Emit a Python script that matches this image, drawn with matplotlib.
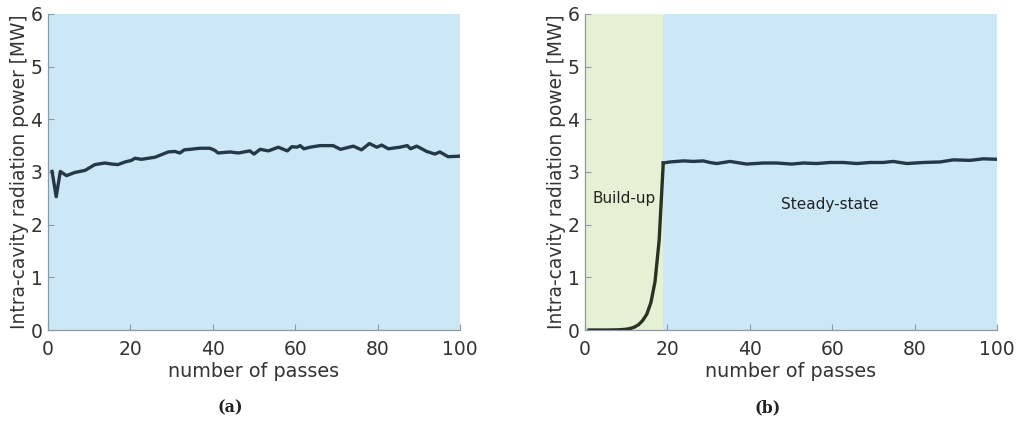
import matplotlib
matplotlib.use("Agg")
import matplotlib.pyplot as plt

# (a) intra-cavity radiation power vs. pass number
passes_a = [1, 2, 3, 4.5, 6.5, 9, 11.4, 13.8, 15.5, 17, 18.7, 20.3, 21.1, 22.7, 26,
            29.2, 30.8, 32, 33.1, 34.5, 36.9, 39.3, 40.5, 41.3, 44.2, 46.2, 49, 50,
            51.5, 53.5, 55.9, 58.1, 59.2, 60.4, 61.2, 62.1, 63.6, 66, 69.2, 71, 74.1,
            76.1, 78, 79.8, 81, 82.6, 85.4, 87.2, 88, 89.5, 91.9, 93.9, 95.1, 97.1, 100]
power_a = [3.01, 2.53, 3.01, 2.93, 2.99, 3.03, 3.14, 3.17, 3.15, 3.14, 3.19, 3.22, 3.26,
           3.24, 3.28, 3.38, 3.39, 3.36, 3.42, 3.43, 3.45, 3.45, 3.41, 3.36, 3.38, 3.36,
           3.40, 3.34, 3.43, 3.40, 3.47, 3.40, 3.48, 3.47, 3.50, 3.44, 3.47, 3.50, 3.50,
           3.43, 3.49, 3.42, 3.54, 3.47, 3.51, 3.44, 3.47, 3.50, 3.44, 3.49, 3.39, 3.34,
           3.38, 3.29, 3.30]

# (b) build-up phase followed by steady-state operation
passes_b = [1, 2, 3, 4, 5, 6, 7, 8, 9, 10, 11, 12, 13, 14, 15, 16, 17, 18, 19,
            20.6, 23.9, 26.3, 28.7, 30.3, 32, 35.2, 39.2, 43.3, 46.5, 50.2, 53, 56.2,
            59.5, 62.7, 65.9, 69.2, 72.4, 74.8, 78.1, 82.1, 86.2, 89.4, 93.4, 96.7, 100]
power_b = [0.0, 0.0, 0.0, 0.0, 0.0, 0.001, 0.002, 0.004, 0.008, 0.015, 0.03, 0.055,
           0.1, 0.18, 0.3, 0.52, 0.92, 1.7, 3.17,
           3.19, 3.21, 3.20, 3.21, 3.18, 3.16, 3.20, 3.15, 3.17, 3.17, 3.15, 3.17, 3.16,
           3.18, 3.18, 3.16, 3.18, 3.18, 3.20, 3.16, 3.18, 3.19, 3.23, 3.22, 3.25, 3.24]
buildup_end = 19

x_ticks = [0, 20, 40, 60, 80, 100]
y_ticks = [0, 1, 2, 3, 4, 5, 6]
x_label = "number of passes"
y_label = "Intra-cavity radiation power [MW]"

BLUE_BG = "#cce8f6"
GREEN_BG = "#e5f0d5"
LINE = "#253847"
LINE_B = "#2a3322"
TEXT = "#333333"
SPINE = "#8a9aa6"

fig = plt.figure(figsize=(10.2, 4.22), dpi=100)
ax_a = fig.add_axes([0.047, 0.218, 0.404, 0.749])
ax_b = fig.add_axes([0.5735, 0.218, 0.404, 0.749])


def style(ax):
    ax.set_xlim(0, 100)
    ax.set_ylim(0, 6)
    ax.set_xticks(x_ticks)
    ax.set_yticks(y_ticks)
    ax.tick_params(direction="in", length=4, width=0.8, colors=SPINE,
                   labelcolor=TEXT, labelsize=13.5)
    ax.tick_params(axis="x", pad=7)
    ax.tick_params(axis="y", pad=4)
    for side in ("top", "right"):
        ax.spines[side].set_visible(False)
    for side in ("left", "bottom"):
        ax.spines[side].set_color(SPINE)
        ax.spines[side].set_linewidth(0.9)
    ax.set_xlabel(x_label, fontsize=13.8, color=TEXT, labelpad=2)
    ax.set_ylabel(y_label, fontsize=13.4, color=TEXT, labelpad=1)


# panel (a)
ax_a.axvspan(0, 100, color=BLUE_BG, zorder=0, lw=0)
ax_a.plot(passes_a, power_a, color=LINE, lw=2.4, zorder=3)
style(ax_a)

# panel (b)
ax_b.axvspan(0, buildup_end, color=GREEN_BG, zorder=0, lw=0)
ax_b.axvspan(buildup_end, 100, color=BLUE_BG, zorder=0, lw=0)
k = passes_b.index(buildup_end)
ax_b.plot(passes_b[:k + 1], power_b[:k + 1], color=LINE_B, lw=2.4, zorder=3)
ax_b.plot(passes_b[k:], power_b[k:], color=LINE, lw=2.4, zorder=3)
ax_b.text(9.5, 2.5, "Build-up", ha="center", va="center", fontsize=11, color="#222222")
ax_b.text(59.5, 2.38, "Steady-state", ha="center", va="center", fontsize=11, color="#222222")
style(ax_b)

fig.text(0.2255, 0.033, "(a)", ha="center", va="center", fontsize=11.5,
         fontweight="bold", family="DejaVu Serif", color="#222222")
fig.text(0.753, 0.033, "(b)", ha="center", va="center", fontsize=11.5,
         fontweight="bold", family="DejaVu Serif", color="#222222")

fig.savefig("out.png", dpi=100)
